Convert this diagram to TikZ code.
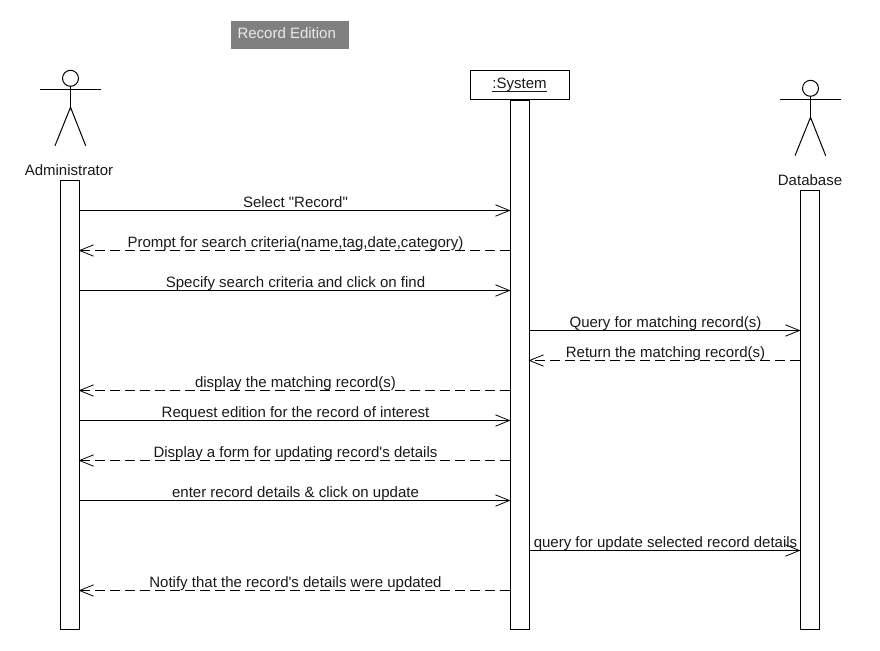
\documentclass[tikz,border=0pt]{standalone}
\usepackage{fontspec}
\setmainfont{Liberation Sans}[Ligatures = TeXOff]
\usetikzlibrary{arrows.meta}

\tikzset{
    label text/.style = {font = \fontsize{11.25}{13}\selectfont, text = black!90, inner sep = 0pt},
    msg text/.style = {label text, above = 0pt, xshift = 0.75pt, text height = 8pt, text depth = 2pt},
    bar/.style = {draw, fill = white, minimum width = 14.25pt, inner sep = 0pt},
    call/.style = {-{Straight Barb[length = 10.5pt, width = 8.5pt, line width = 0.6pt]}, shorten > = -0.75pt},
    reply/.style = {call, dash pattern = on 7.5pt off 3.75pt}
}

\begin{document}
\begin{tikzpicture}[%
        x = 0.75pt,
        y = -0.75pt,
        line width = 0.75pt,
        line cap = butt
    ]
        \useasboundingbox (0, 0) rectangle (880, 650);

        % Title box.
        \node[fill = black!50, minimum width = 88.5pt, minimum height = 21pt, inner sep = 0pt] (Title_Box) at (290, 35) {};
        \node[label text, text = white!92!black, anchor = west] (Title) at (237, 33) {Record Edition};

        % Activation bars and the system box.
        \node[bar, minimum height = 336.75pt] (Admin_Bar) at (69.5, 404.5) {};
        \node[bar, minimum height = 396.75pt] (System_Bar) at (519.5, 364.5) {};
        \node[bar, minimum height = 329.25pt] (Database_Bar) at (809.5, 409.5) {};
        \node[draw, fill = white, minimum width = 74.25pt, minimum height = 21.75pt, inner sep = 0pt,
            label text] (System_Box) at (519.5, 85) {\underline{:S\smash{y}stem}};

        % Stick figure for the administrator.
        \draw (70.5, 78.3) circle (8);
        \draw (70.5, 86.3) to (70.5, 107.3);
        \draw (40, 89.3) to (101, 89.3);
        \draw (55, 145.7) to (70.5, 107.3) to (85.7, 145.7);
        \node[label text] (Admin_Label) at (69, 170) {Administrator};

        % Stick figure for the database.
        \draw (810.5, 88.3) circle (8);
        \draw (810.5, 96.3) to (810.5, 117.3);
        \draw (780, 99.3) to (841, 99.3);
        \draw (795, 155.7) to (810.5, 117.3) to (825.7, 155.7);
        \node[label text] (Database_Label) at (810, 180) {Database};

        % Heights of the messages.
        \coordinate (Row_A) at (0, 210.5);
        \coordinate (Row_B) at (0, 250.5);
        \coordinate (Row_C) at (0, 290.5);
        \coordinate (Row_D) at (0, 330.5);
        \coordinate (Row_E) at (0, 360.5);
        \coordinate (Row_F) at (0, 390.5);
        \coordinate (Row_G) at (0, 420.5);
        \coordinate (Row_H) at (0, 460.5);
        \coordinate (Row_I) at (0, 500.5);
        \coordinate (Row_J) at (0, 550.5);
        \coordinate (Row_K) at (0, 590.5);

        % Messages between administrator and system.
        \draw[call] (Admin_Bar.east |- Row_A) to node[msg text] {Select "Record"} (System_Bar.west |- Row_A);
        \draw[reply] (System_Bar.west |- Row_B) to node[msg text] {Prompt for search criteria(name,tag,date,category)} (Admin_Bar.east |- Row_B);
        \draw[call] (Admin_Bar.east |- Row_C) to node[msg text] {Specify search criteria and click on find} (System_Bar.west |- Row_C);
        \draw[reply] (System_Bar.west |- Row_F) to node[msg text] {display the matching record(s)} (Admin_Bar.east |- Row_F);
        \draw[call] (Admin_Bar.east |- Row_G) to node[msg text] {Request edition for the record of interest} (System_Bar.west |- Row_G);
        \draw[reply] (System_Bar.west |- Row_H) to node[msg text] {Display a form for updating record's details} (Admin_Bar.east |- Row_H);
        \draw[call] (Admin_Bar.east |- Row_I) to node[msg text] {enter record details \& click on update} (System_Bar.west |- Row_I);
        \draw[reply] (System_Bar.west |- Row_K) to node[msg text] {Notify that the record's details were updated} (Admin_Bar.east |- Row_K);

        % Messages between system and database.
        \draw[call] (System_Bar.east |- Row_D) to node[msg text] {Query for matching record(s)} (Database_Bar.west |- Row_D);
        \draw[reply] (Database_Bar.west |- Row_E) to node[msg text] {Return the matching record(s)} (System_Bar.east |- Row_E);
        \draw[call] (System_Bar.east |- Row_J) to node[msg text] {query for update selected record details} (Database_Bar.west |- Row_J);
    \end{tikzpicture}
\end{document}
